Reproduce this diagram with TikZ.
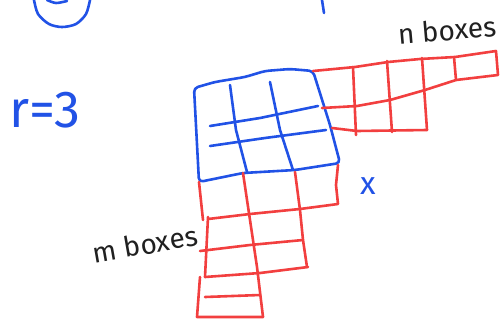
\documentclass[tikz,border=0pt]{standalone}
\usepackage{fontspec}
\usepackage{tikz}
\usetikzlibrary{calc}
\newfontfamily\handfont{Fira Sans}
\definecolor{PenBlue}{HTML}{2152E6}
\definecolor{PenRed}{HTML}{F23F3F}
\definecolor{PenBlack}{HTML}{202020}

\begin{document}
\begin{tikzpicture}[
    x=1pt, y=-1pt,
    bluepen/.style={PenBlue, line width=2.6pt, line cap=round, line join=round},
    redpen/.style={PenRed, line width=2.6pt, line cap=round, line join=round},
    notelbl/.style={font=\handfont\fontsize{28}{30}\selectfont, PenBlack, inner sep=0pt},
    every node/.style={font=\handfont}
]
\useasboundingbox (0,0) rectangle (503,322);

% =============================================
% TOP: leftover strokes
% =============================================
\draw[bluepen] plot[smooth] coordinates {(34,0) (38,14) (49,24) (62,27) (76,24) (86,14) (90,0)};
\draw[bluepen] plot[smooth] coordinates {(47,0) (56,3) (67,1)};
\draw[bluepen] (322,0) -- (324,13);

\node[PenBlue, font=\handfont\fontsize{52}{54}\selectfont, inner sep=0pt] (rval) at (45,110) {r=3};

% =============================================
% BLUE r x r block
% =============================================
\draw[bluepen, rounded corners=4pt] (194,88) -- (215,82) -- (245,77) -- (265,71) -- (290,69) -- (313,71)
    -- (330,125) -- (340,163) -- (295,170) -- (243,173) -- (199,182) -- cycle;
\draw[bluepen] (230,85) -- (236,130) -- (247,172);
\draw[bluepen] (270,82) -- (280,130) -- (293,170);
\draw[bluepen] (210,126) -- (260,118) -- (318,106);
\draw[bluepen] (210,146) -- (265,138) -- (326,130);

\node[PenBlue, font=\handfont\fontsize{32}{34}\selectfont, inner sep=0pt] (xlbl) at (368,186) {x};

% =============================================
% RIGHT: n boxes
% =============================================
\draw[redpen] (313,71) -- (355,67) -- (388,62) -- (420,59) -- (455,57) -- (496,51) -- (498,75)
    -- (456,80) -- (425,90) -- (390,100) -- (357,106) -- (322,108);
\draw[redpen] (332,128) -- (357,131) -- (427,130);
\draw[redpen] (353,67) -- (356,135);
\draw[redpen] (387,61) -- (392,132);
\draw[redpen] (422,58) -- (427,130);
\draw[redpen] (454,57) -- (456,80);

\node[notelbl, rotate=5] (nlbl) at (447,30) {n boxes};

% =============================================
% BOTTOM: m boxes
% =============================================
\draw[redpen] (199,182) -- (203,220);
\draw[redpen] (208,219) -- (250,214) -- (300,209) -- (338,204) -- (336,185) -- (338,165);
\draw[redpen] (243,173) -- (250,220) -- (257,267) -- (263,317);
\draw[redpen] (295,172) -- (300,210) -- (303,240) -- (307,267);
\draw[redpen] (208,217) -- (205,277);
\draw[redpen] (200,251) -- (250,245) -- (303,240);
\draw[redpen] (205,277) -- (260,273) -- (308,267);
\draw[redpen] (200,277) -- (197,317) -- (263,317);
\draw[redpen] (205,297) -- (260,295);

\node[notelbl, rotate=10] (mlbl) at (145,244) {m boxes};

\end{tikzpicture}
\end{document}
